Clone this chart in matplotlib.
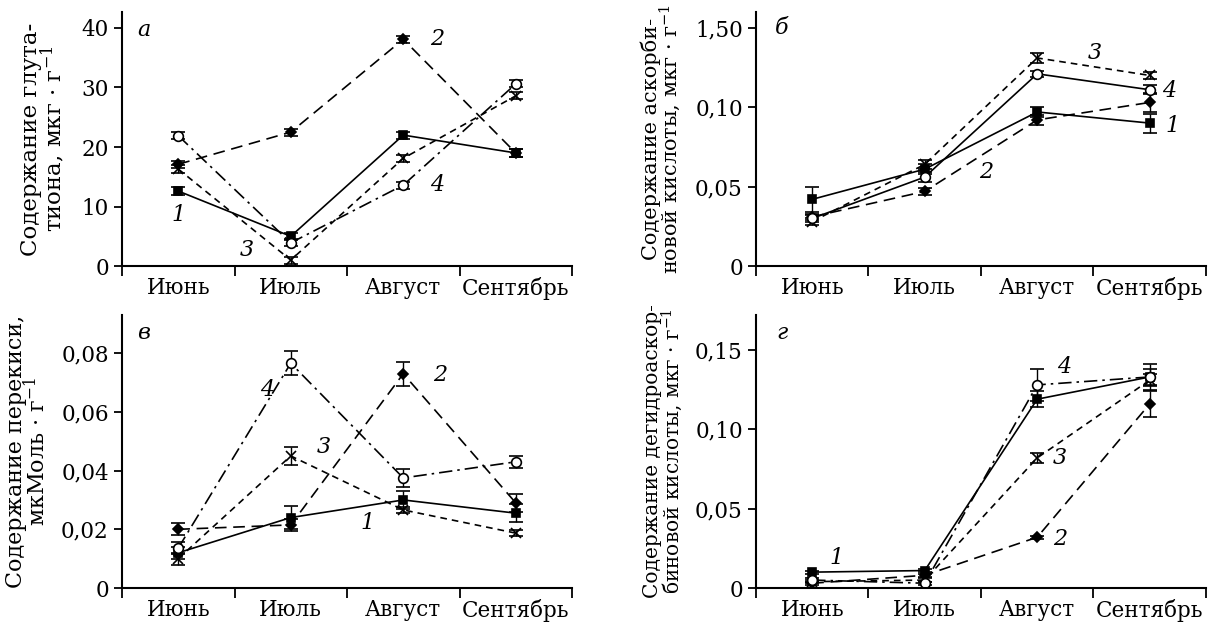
# %%
# Seasonal dynamics of glutathione, ascorbate, peroxide, dehydroascorbate
import numpy as np
import matplotlib
matplotlib.use('Agg')
import matplotlib.pyplot as plt

plt.rcParams['font.family'] = ['DejaVu Serif']
plt.rcParams['mathtext.fontset'] = 'dejavuserif'

months = ['Июнь', 'Июль', 'Август', 'Сентябрь']

# panel а - glutathione, ug/g
a_s1 = [12.6, 5.0, 22.0, 19.0]
a_s2 = [17.1, 22.5, 38.1, 19.0]
a_s3 = [16.3, 1.0, 18.1, 28.6]
a_s4 = [21.9, 3.9, 13.6, 30.6]
a_err = [0.6, 0.6, 0.6, 0.6]

# panel б - ascorbic acid
b_s1 = [0.042, 0.061, 0.097, 0.090]
b_s2 = [0.031, 0.047, 0.092, 0.103]
b_s3 = [0.028, 0.064, 0.131, 0.120]
b_s4 = [0.030, 0.056, 0.121, 0.111]
b_err1 = [0.008, 0.003, 0.003, 0.006]
b_err2 = [0.002, 0.002, 0.003, 0.006]
b_err3 = [0.002, 0.003, 0.003, 0.002]
b_err4 = [0.002, 0.003, 0.002, 0.003]

# panel в - peroxide, umol/g
c_s1 = [0.012, 0.024, 0.030, 0.0255]
c_s2 = [0.020, 0.0215, 0.073, 0.029]
c_s3 = [0.010, 0.045, 0.0266, 0.0187]
c_s4 = [0.0136, 0.0766, 0.0375, 0.043]
c_err1 = [0.002, 0.004, 0.003, 0.003]
c_err2 = [0.002, 0.002, 0.004, 0.003]
c_err3 = [0.002, 0.003, 0.001, 0.001]
c_err4 = [0.002, 0.004, 0.003, 0.002]

# panel г - dehydroascorbic acid
d_s1 = [0.010, 0.011, 0.119, 0.133]
d_s2 = [0.003, 0.008, 0.032, 0.116]
d_s3 = [0.004, 0.005, 0.082, 0.131]
d_s4 = [0.005, 0.003, 0.128, 0.133]
d_err1 = [0.001, 0.001, 0.005, 0.005]
d_err2 = [0.001, 0.001, 0.001, 0.008]
d_err3 = [0.001, 0.001, 0.003, 0.004]
d_err4 = [0.001, 0.001, 0.010, 0.008]

a_ticks = [0, 10, 20, 30, 40]
a_ticklabels = ['0', '10', '20', '30', '40']
b_ticks = [0, 0.05, 0.10, 0.15]
b_ticklabels = ['0', '0,05', '0,10', '1,50']
c_ticks = [0, 0.02, 0.04, 0.06, 0.08]
c_ticklabels = ['0', '0,02', '0,04', '0,06', '0,08']
d_ticks = [0, 0.05, 0.10, 0.15]
d_ticklabels = ['0', '0,05', '0,10', '0,15']

x = np.arange(len(months)) + 0.5

styles = {
    1: dict(marker='s', ls='-', mfc='black', ms=6),
    2: dict(marker='D', ls=(0, (7, 4)), mfc='black', ms=5),
    3: dict(marker='x', ls=(0, (4, 3)), mfc='black', ms=7),
    4: dict(marker='o', ls=(0, (8, 3, 1.5, 3)), mfc='white', ms=7),
}

fig = plt.figure(figsize=(12.14, 6.26), dpi=100)
w = 0.3707
ax_a = fig.add_axes([0.1005, 0.575, w, 0.406])
ax_b = fig.add_axes([0.6227, 0.575, w, 0.406])
ax_c = fig.add_axes([0.1005, 0.0607, w, 0.436])
ax_d = fig.add_axes([0.6227, 0.0607, w, 0.436])


def draw(ax, series, errs, override=None):
    for k, (vals, err) in enumerate(zip(series, errs), start=1):
        st = dict(styles[k])
        if override and k in override:
            st.update(override[k])
        ax.errorbar(x, vals, yerr=err, color='black', lw=1.2, mec='black',
                    mew=1.2, capsize=5, elinewidth=1.0, capthick=1.0,
                    marker=st['marker'], ls=st['ls'], mfc=st['mfc'], ms=st['ms'])


def setup(ax, ylim, ticks, ticklabels, ylabel, lab_x, lab_size):
    ax.set_xlim(0, 4)
    ax.set_ylim(*ylim)
    ax.spines['top'].set_visible(False)
    ax.spines['right'].set_visible(False)
    ax.spines['left'].set_linewidth(1.5)
    ax.spines['bottom'].set_linewidth(1.5)
    ax.set_xticks([0, 1, 2, 3, 4])
    ax.set_xticklabels([])
    ax.set_xticks(x, minor=True)
    ax.set_xticklabels(months, minor=True)
    ax.tick_params(axis='x', which='major', direction='out', length=7, width=1.3)
    ax.tick_params(axis='x', which='minor', length=0, labelsize=15.5, pad=8)
    ax.set_yticks(ticks)
    ax.set_yticklabels(ticklabels)
    ax.tick_params(axis='y', direction='out', length=6, width=1.3, labelsize=15.5)
    ax.set_ylabel(ylabel, fontsize=lab_size, linespacing=0.85)
    ax.yaxis.set_label_coords(lab_x, 0.5)


draw(ax_a, [a_s1, a_s2, a_s3, a_s4], [a_err] * 4)
setup(ax_a, (0, 42.7), a_ticks, a_ticklabels,
      'Содержание глута-\nтиона, мкг · г$^{-1}$', -0.122, 16.5)

draw(ax_b, [b_s1, b_s2, b_s3, b_s4], [b_err1, b_err2, b_err3, b_err4],
     override={4: dict(ls='-')})
setup(ax_b, (0, 0.16), b_ticks, b_ticklabels,
      'Содержание аскорби-\nновой кислоты, мкг · г$^{-1}$', -0.162, 15)

draw(ax_c, [c_s1, c_s2, c_s3, c_s4], [c_err1, c_err2, c_err3, c_err4])
setup(ax_c, (0, 0.093), c_ticks, c_ticklabels,
      'Содержание перекиси,\nмкМоль · г$^{-1}$', -0.16, 16)

draw(ax_d, [d_s1, d_s2, d_s3, d_s4], [d_err1, d_err2, d_err3, d_err4])
setup(ax_d, (0, 0.172), d_ticks, d_ticklabels,
      'Содержание дегидроаскор-\nбиновой кислоты, мкг · г$^{-1}$', -0.158, 14.5)

# panel letters and curve numbers
lab = dict(fontsize=16, style='italic', ha='center', va='center')
ax_a.text(0.19, 39.7, 'а', **lab)
ax_a.text(0.5, 8.6, '1', **lab)
ax_a.text(1.11, 2.7, '3', **lab)
ax_a.text(2.8, 38.1, '2', **lab)
ax_a.text(2.8, 13.6, '4', **lab)

ax_b.text(0.23, 0.150, 'б', **lab)
ax_b.text(3.01, 0.134, '3', **lab)
ax_b.text(3.67, 0.110, '4', **lab)
ax_b.text(3.70, 0.088, '1', **lab)
ax_b.text(2.05, 0.059, '2', **lab)

ax_c.text(0.19, 0.087, 'в', **lab)
ax_c.text(1.29, 0.0675, '4', **lab)
ax_c.text(1.79, 0.048, '3', **lab)
ax_c.text(2.83, 0.0726, '2', **lab)
ax_c.text(2.18, 0.022, '1', **lab)

ax_d.text(0.23, 0.161, 'г', **lab)
ax_d.text(0.72, 0.019, '1', **lab)
ax_d.text(2.74, 0.139, '4', **lab)
ax_d.text(2.70, 0.082, '3', **lab)
ax_d.text(2.70, 0.031, '2', **lab)

fig.savefig('out.png', dpi=100)
